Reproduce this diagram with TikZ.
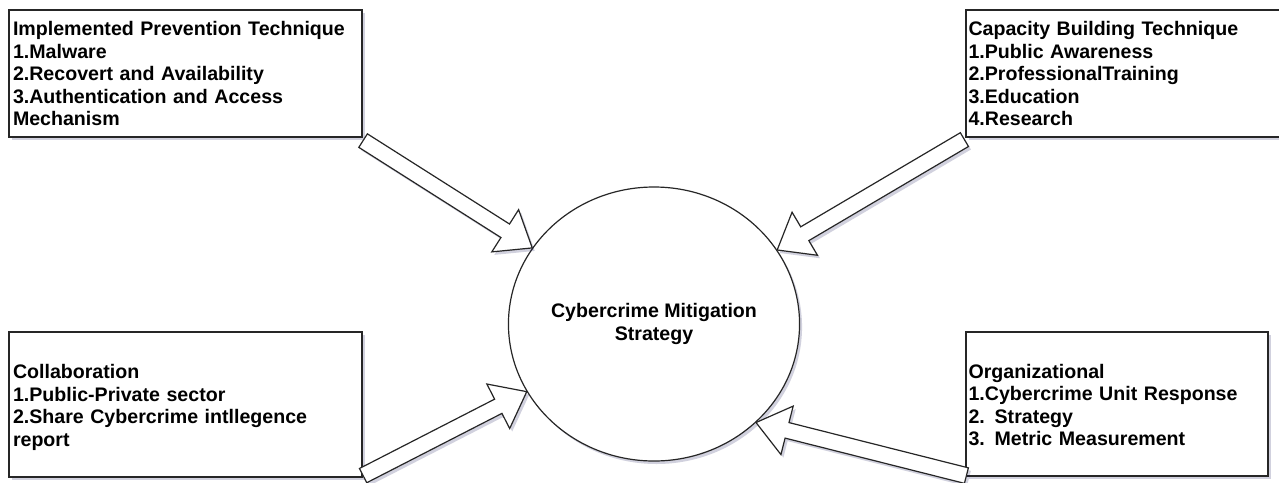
\documentclass[tikz,border=0pt]{standalone}
\usepackage{fontspec}
\setmainfont{Liberation Sans}
\usetikzlibrary{calc,shapes.geometric,shadows}
\tikzset{
  softshadow/.style={drop shadow={shadow xshift=2.5pt, shadow yshift=-3pt, opacity=0.18, fill=black!70!blue}},
  box/.style={rectangle, draw=black!85, line width=1.2pt, fill=white, inner xsep=4pt, inner ysep=0pt,
    align=left, font=\fontsize{19.6}{22.5}\selectfont\bfseries, softshadow},
  hub/.style={ellipse, draw=black!85, line width=1.2pt, fill=white, minimum width=286pt, minimum height=274pt,
    inner sep=0pt, align=center, font=\fontsize{19.6}{22.8}\selectfont\bfseries, softshadow},
  blockarr/.style={draw=black!85, line width=1.2pt, fill=white, line join=miter, softshadow}
}
\newcommand\blockarrow[2]{%
  \coordinate (hb) at ($(#2)!32pt!(#1)$);
  \draw[blockarr] ($(#1)!8pt!90:(#2)$) -- ($(hb)!8pt!-90:(#1)$) -- ($(hb)!25pt!-90:(#1)$) -- (#2)
    -- ($(hb)!25pt!90:(#1)$) -- ($(hb)!8pt!90:(#1)$) -- ($(#1)!8pt!-90:(#2)$) -- cycle;}
\begin{document}
\begin{tikzpicture}[x=1pt,y=-1pt]
  \useasboundingbox (0,0) rectangle (1279,482);
  \clip (0,0) rectangle (1279,482);
  \fill[white] (0,0) rectangle (1279,482);

  \node[box, minimum width=353pt, minimum height=127pt, text width=345pt] (tl) at (185.5,73.5)
    {Implemented Prevention Technique\\1.Malware\\2.Recovert and Availability\\3.Authentication and Access\\Mechanism};
  \node[box, inner xsep=2.5pt, minimum width=324pt, minimum height=127pt, text width=319pt] (tr) at (1128,73.5)
    {Capacity Building Technique\\1.Public Awareness\\2.ProfessionalTraining\\3.Education\\4.Research};
  \node[box, minimum width=353pt, minimum height=145pt, text width=345pt] (bl) at (185.5,404.5)
    {\rule{0pt}{16pt}Collaboration\\1.Public-Private sector\\2.Share Cybercrime intllegence\\\smash{report}};
  \node[box, inner xsep=2.5pt, minimum width=302pt, minimum height=144pt, text width=297pt] (br) at (1117,404)
    {\rule{0pt}{16pt}Organizational\\1.Cybercrime Unit Response\\2. Strategy\\3. Metric Measurement};

  \node[hub] (c) at (654,324) {Cybercrime Mitigation\\Strategy};

  \coordinate (t1) at ($(tl.south east)+(0.5,3)$);
  \coordinate (t2) at ($(tr.south west)+(-1,2)$);
  \coordinate (t3) at ($(bl.south east)+(0.5,-2)$);
  \coordinate (t4) at ($(br.south west)+(1,-1)$);
  \coordinate (p1) at (c.148);
  \coordinate (p2) at (c.31);
  \coordinate (p3) at (c.208);
  \coordinate (p4) at (c.316.5);

  \blockarrow{t1}{p1}
  \blockarrow{t2}{p2}
  \blockarrow{t3}{p3}
  \blockarrow{t4}{p4}
\end{tikzpicture}
\end{document}
